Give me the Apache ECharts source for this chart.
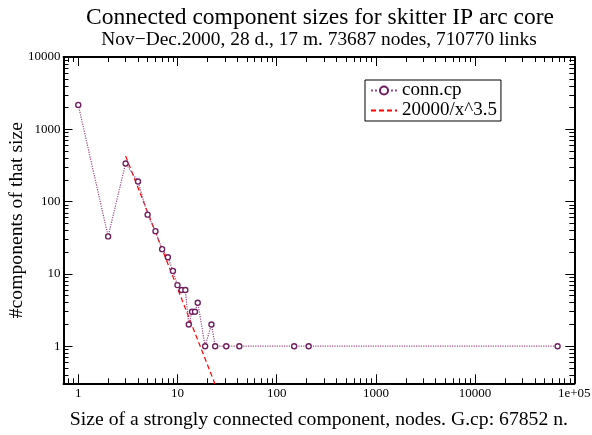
<!DOCTYPE html>
<html><head><meta charset="utf-8">
<script src="https://cdn.jsdelivr.net/npm/echarts@6/dist/echarts.min.js"></script>
<style>html,body{margin:0;padding:0;background:#fff}#c{width:592px;height:435px}</style>
</head><body><div id="c"></div>
<script>
// component size (nodes) and number of components of that size
const sizes  = [1, 2, 3, 4, 5, 6, 7, 8, 9, 10, 11, 12, 13, 14, 15, 16, 19, 22, 24, 31, 42, 150, 210, 67852];
const counts = [2175, 33, 337, 190, 66, 39, 22, 17, 11, 7, 6, 6, 2, 3, 3, 4, 1, 2, 1, 1, 1, 1, 1, 1];
// fitted power law 20000/x^3.5, end points
const fitX = [3, 25];
const fitY = [427.6, 0.2561];
const xTickLabels = ['1', '10', '100', '1000', '10000', '1e+05'];
const yTickLabels = ['1', '10', '100', '1000', '10000'];

const L = v => Math.log10(v);
const FONT = 'Liberation Serif';
const xMin = -0.149, xMax = 5.0, yMin = -0.513, yMax = 4;

function minorList(lo, hi) {
  const out = [];
  for (let d = Math.floor(lo) - 1; d <= Math.ceil(hi); d++) {
    for (let k = 2; k <= 9; k++) {
      const v = d + Math.log10(k);
      if (v > lo && v < hi) out.push(v);
    }
  }
  return out;
}
const xMajor = xTickLabels.map((_, i) => i);
const yMajor = yTickLabels.map((_, i) => i);

function mkAxis(pos, min, max, major, labels, isMajor, showLabel, margin) {
  return {
    type: 'value', position: pos, min: min, max: max, offset: 0,
    axisLine: { show: isMajor, onZero: false, lineStyle: { color: '#000', width: 2 } },
    axisTick: { show: true, inside: true, length: isMajor ? 9 : 5,
      customValues: isMajor ? major : minorList(min, max),
      lineStyle: { color: '#000', width: 1 } },
    axisLabel: { show: showLabel, customValues: major, color: '#000',
      fontFamily: FONT, fontSize: 13, margin: margin,
      formatter: v => labels[Math.round(v)] },
    splitLine: { show: false }, minorTick: { show: false }
  };
}

const chart = echarts.init(document.getElementById('c'), null, { renderer: 'canvas' });
const xAxes = [
  Object.assign(mkAxis('bottom', xMin, xMax, xMajor, xTickLabels, true, true, 4), {
    name: 'Size of a strongly connected component, nodes. G.cp: 67852 n.',
    nameLocation: 'middle', nameGap: 27,
    nameTextStyle: { fontFamily: FONT, fontSize: 19.7, color: '#000' } }),
  mkAxis('bottom', xMin, xMax, xMajor, xTickLabels, false, false, 4),
  mkAxis('top', xMin, xMax, xMajor, xTickLabels, true, false, 4),
  mkAxis('top', xMin, xMax, xMajor, xTickLabels, false, false, 4)
];
const yAxes = [
  Object.assign(mkAxis('left', yMin, yMax, yMajor, yTickLabels, true, true, 3), {
    name: '#components of that size', nameLocation: 'middle', nameGap: 36.5,
    nameMoveOverlap: false,
    nameTextStyle: { fontFamily: FONT, fontSize: 19.7, color: '#000' } }),
  mkAxis('left', yMin, yMax, yMajor, yTickLabels, false, false, 3),
  mkAxis('right', yMin, yMax, yMajor, yTickLabels, true, false, 3),
  mkAxis('right', yMin, yMax, yMajor, yTickLabels, false, false, 3)
];

chart.setOption({
  animation: false,
  backgroundColor: '#fff',
  title: [
    { text: 'Connected component sizes for skitter IP arc core',
      left: 320, textAlign: 'center', top: 6, padding: 0,
      textStyle: { fontFamily: FONT, fontSize: 23.5, fontWeight: 'normal', color: '#000' } },
    { text: 'Nov\u2212Dec.2000, 28 d., 17 m. 73687 nodes, 710770 links',
      left: 319, textAlign: 'center', top: 30, padding: 0,
      textStyle: { fontFamily: FONT, fontSize: 19.4, fontWeight: 'normal', color: '#000' } }
  ],
  legend: {
    orient: 'vertical', left: 365, top: 80, padding: [1, 4, 1, 5], itemGap: 1,
    borderColor: '#000', borderWidth: 1, backgroundColor: '#fff',
    itemWidth: 26, itemHeight: 10,
    textStyle: { fontFamily: FONT, fontSize: 19, color: '#000' },
    data: [{ name: 'conn.cp' }, { name: '20000/x^3.5', itemStyle: { opacity: 0 } }]
  },
  grid: { left: 63.5, right: 17.7, top: 57, bottom: 51.7, containLabel: false, outerBoundsMode: 'none' },
  xAxis: xAxes,
  yAxis: yAxes,
  series: [
    {
      name: 'conn.cp', type: 'line', xAxisIndex: 0, yAxisIndex: 0,
      data: sizes.map((s, i) => [L(s), L(counts[i])]),
      symbol: 'circle', symbolSize: 5, showSymbol: true,
      itemStyle: { color: '#fff', borderColor: '#702060', borderWidth: 1.4 },
      lineStyle: { color: '#9a4a84', width: 1.2, type: 'dotted' },
      z: 3
    },
    {
      name: '20000/x^3.5', type: 'line', xAxisIndex: 0, yAxisIndex: 0,
      data: fitX.map((x, i) => [L(x), L(fitY[i])]),
      symbol: 'none', clip: true,
      itemStyle: { color: '#ff0000' },
      lineStyle: { color: '#ff0000', width: 1.2, type: [5, 3] },
      z: 2
    }
  ]
});
</script></body></html>
